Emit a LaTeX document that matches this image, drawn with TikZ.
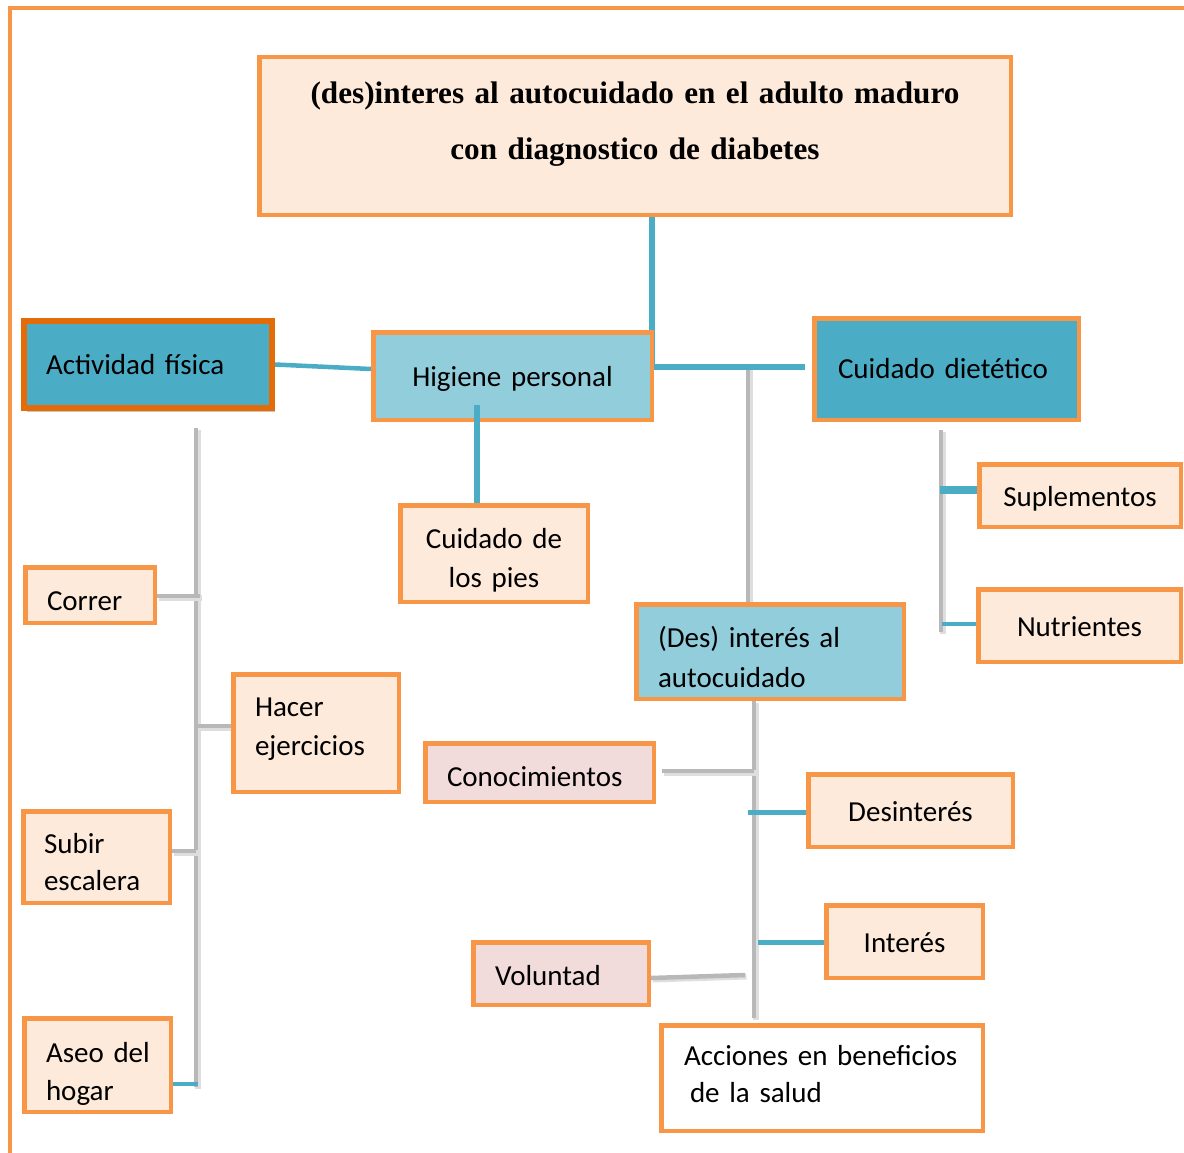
\documentclass[tikz,border=0pt]{standalone}
\usepackage{fontspec}
\setmainfont{Carlito}
\newfontfamily\titlefont{Liberation Serif}
\usetikzlibrary{shadows,calc}
\definecolor{orng}{HTML}{F79646}
\definecolor{dorng}{HTML}{E36C09}
\definecolor{peach}{HTML}{FDEADA}
\definecolor{tealA}{HTML}{4BACC6}
\definecolor{tealB}{HTML}{92CDDC}
\definecolor{pinkc}{HTML}{F2DCDB}
\definecolor{grayl}{HTML}{B8B8B8}
\definecolor{grayshade}{HTML}{DEDEDE}
% invisible struts fixing the first line's height and the last line's depth
\newcommand\hs[1]{\rule{0pt}{#1pt}}
\newcommand\ds[1]{\rule[-#1pt]{0pt}{0pt}}
\pgfdeclarelayer{bg}
\pgfsetlayers{bg,main}
\begin{document}
\begin{tikzpicture}[x=1pt,y=-1pt,
  bx/.style={draw=orng, line width=4.5pt, inner sep=0pt, fill=peach,
    font=\fontsize{29}{39}\selectfont},
  lft/.style={text width=#1, align=left},
  ctr/.style={text width=#1, align=center},
  tline/.style={draw=tealA, line width=#1},
  tline/.default=5pt,
  gline/.style={draw=grayl, line width=4.5pt,
    preaction={draw=grayshade, line width=6pt, transform canvas={shift={(1.5pt,-1.5pt)}}}}]
\useasboundingbox (0,0) rectangle (1184,1153);
\draw[orng, line width=4pt] (9.5,1153) -- (9.5,8) -- (1184,8);

% boxes
\node[bx, minimum width=751.5pt, minimum height=157.5pt, text width=740pt, align=center,
  font=\titlefont\bfseries\fontsize{31.2}{56}\selectfont, text depth=87pt] (title) at (635,136)
  {(des)interes al autocuidado en el adulto maduro\\con diagnostico de diabetes};
\node[bx, draw=dorng, line width=6pt, fill=tealA, minimum width=248pt, minimum height=87pt,
  lft=204pt, drop shadow={shadow xshift=3pt, shadow yshift=-4pt, opacity=0.45}] (act) at (148,364.5)
  {\hs{27}Actividad física\ds{8}};
\node[bx, fill=tealB, minimum width=278.5pt, minimum height=87.5pt, ctr=260pt] (hig) at (512.5,376)
  {\hs{28}Higiene personal\ds{8}};
\node[bx, fill=tealA, minimum width=264.5pt, minimum height=101.5pt, lft=217pt] (cui) at (946.5,369)
  {\hs{26}Cuidado dietético\ds{8}};
\node[bx, minimum width=187.5pt, minimum height=96.5pt, ctr=180pt] (pies) at (494,553.5)
  {\hs{36}Cuidado de\\los pies\ds{8}};
\node[bx, minimum width=129.5pt, minimum height=55.5pt, lft=86pt] (correr) at (90,595)
  {\hs{38}Correr\ds{8}};
\node[bx, minimum width=165.5pt, minimum height=117.5pt, lft=122pt] (hacer) at (316,733)
  {\hs{24}Hacer\\\mbox{ejercicios}\ds{19}};
\node[bx, minimum width=146.5pt, minimum height=91.5pt, lft=105pt,
  font=\fontsize{29}{37}\selectfont] (subir) at (96.5,857)
  {\hs{37}Subir\\\mbox{escalera}\ds{8}};
\node[bx, minimum width=146.5pt, minimum height=93.5pt, lft=103pt,
  font=\fontsize{29}{38}\selectfont] (aseo) at (97.5,1065)
  {\hs{40}\mbox{Aseo del}\\hogar\ds{8}};
\node[bx, minimum width=201.5pt, minimum height=62.5pt, ctr=190pt] (sup) at (1080,495.5)
  {\hs{29}Suplementos\ds{8}};
\node[bx, minimum width=202.5pt, minimum height=72.5pt, ctr=190pt] (nut) at (1079.5,625.5)
  {\hs{29}Nutrientes\ds{8}};
\node[bx, fill=tealB, minimum width=267.5pt, minimum height=94.5pt, lft=224pt,
  font=\fontsize{29}{40}\selectfont] (des) at (770,651.5)
  {\hs{39}(Des) interés al\\autocuidado\ds{8}};
\node[bx, fill=pinkc, minimum width=228.5pt, minimum height=58.5pt, lft=185pt] (cono) at (539.5,772.5)
  {\hs{35}\mbox{Conocimientos}\ds{8}};
\node[bx, minimum width=204.5pt, minimum height=72.5pt, ctr=190pt] (desint) at (910.5,810.5)
  {\hs{29}Desinterés\ds{8}};
\node[bx, minimum width=156.5pt, minimum height=72.5pt, ctr=150pt] (inter) at (904.5,941.5)
  {\hs{29}Interés\ds{8}};
\node[bx, fill=pinkc, minimum width=175.5pt, minimum height=62.5pt, lft=132pt] (vol) at (561,973.5)
  {\hs{31}Voluntad\ds{8}};
\node[bx, fill=white, minimum width=321.5pt, minimum height=105.5pt, lft=276pt,
  font=\fontsize{29}{37}\selectfont] (acc) at (822,1078)
  {\hs{25}\mbox{Acciones en beneficios}\\\hspace*{6pt}de la salud\ds{14}};

% coordinates
\coordinate (j1) at (652,367);
\coordinate (j2) at (805,367);
\coordinate (m1) at (748,367);
\coordinate (h1) at (477,405);
\coordinate (L1) at (196,428);
\coordinate (L2) at (196,1087);
\coordinate (Lc) at (200,596);
\coordinate (Lh) at (196,726);
\coordinate (Ls) at (196,851);
\coordinate (La) at (198,1084);
\coordinate (R1) at (941,430);
\coordinate (R2) at (941,632);
\coordinate (Rs) at (940,490);
\coordinate (Rn) at (942,624);
\coordinate (D2) at (754,1018);
\coordinate (Dc) at (754,771);
\coordinate (Dd) at (748,812);
\coordinate (Di) at (758,942);
\coordinate (Dv) at (745,975);

\begin{pgfonlayer}{bg}
\draw[gline] (m1) -- (m1 |- des.north);
\draw[gline] (L1) -- (L2);
\draw[gline] (correr.east |- Lc) -- (Lc);
\draw[gline] (Lh) -- (hacer.west |- Lh);
\draw[gline] (subir.east |- Ls) -- (Ls);
\draw[gline] (R1) -- (R2);
\draw[gline] (des.south -| D2) -- (D2);
\draw[gline] ($(cono.east |- Dc)+(6,0)$) -- (Dc);
\draw[gline] ($(vol.east)+(0,4.5)$) -- (Dv);
\draw[tline=6.5pt] (title.south -| j1) -- (j1) -- (j2);
\draw[tline=4.5pt] (act.east) -- ($(hig.west)+(0,-7)$);
\end{pgfonlayer}

\draw[tline=6.5pt] (h1) -- (h1 |- pies.north);
\draw[tline=4pt] (aseo.east |- La) -- (La);
\draw[tline=8pt] (Rs) -- (sup.west |- Rs);
\draw[tline=4.5pt] (Rn) -- (nut.west |- Rn);
\draw[tline=5pt] (Dd) -- (desint.west |- Dd);
\draw[tline=5pt] (Di) -- (inter.west |- Di);
\end{tikzpicture}
\end{document}
